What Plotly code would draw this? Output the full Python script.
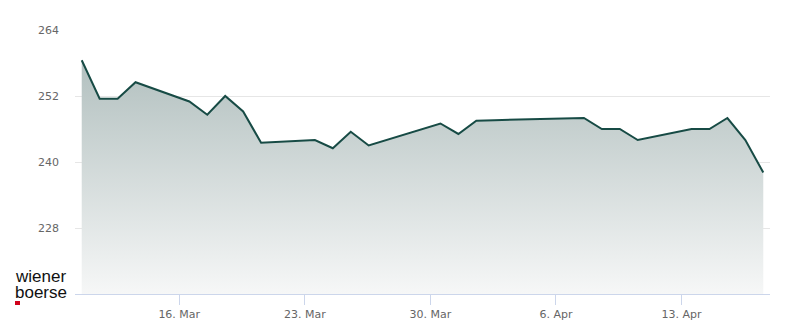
import plotly.graph_objects as go

dates = ["2026-03-10", "2026-03-11", "2026-03-12", "2026-03-13",
         "2026-03-16", "2026-03-17", "2026-03-18", "2026-03-19", "2026-03-20",
         "2026-03-23", "2026-03-24", "2026-03-25", "2026-03-26", "2026-03-27",
         "2026-03-30", "2026-03-31", "2026-04-01", "2026-04-02",
         "2026-04-07", "2026-04-08", "2026-04-09", "2026-04-10",
         "2026-04-13", "2026-04-14", "2026-04-15", "2026-04-16", "2026-04-17"]
values = [258.5, 251.5, 251.5, 254.5,
          251.0, 248.6, 252.0, 249.2, 243.5,
          244.0, 242.5, 245.5, 243.0, 244.0,
          247.0, 245.1, 247.5, 247.6,
          248.0, 246.0, 246.0, 244.0,
          246.0, 246.0, 248.0, 244.0, 238.1]
tick_dates = ["2026-03-16", "2026-03-23", "2026-03-30", "2026-04-06", "2026-04-13"]
tick_labels = ["16. Mar", "23. Mar", "30. Mar", "6. Apr", "13. Apr"]
y_ticks = [228, 240, 252, 264]

x_points = [d + "T13:30:00" for d in dates]

PW, PH = 695, 264

fig = go.Figure()
fig.add_trace(go.Scatter(
    x=x_points, y=values, mode="lines",
    line=dict(color="#174b45", width=2),
    fill="tozeroy",
    fillgradient=dict(type="vertical", start=216, stop=258.5,
                      colorscale=[[0, "rgb(246,247,247)"], [1, "rgb(178,192,191)"]]),
    hoverinfo="skip", showlegend=False,
))

fig.update_layout(
    width=800, height=324,
    margin=dict(l=75, r=30, t=30, b=30, autoexpand=False),
    paper_bgcolor="white", plot_bgcolor="white",
    font=dict(family="DejaVu Sans", size=11, color="#666666"),
    xaxis=dict(
        type="date", automargin=False,
        range=["2026-03-10T04:30:00", "2026-04-17T22:30:00"],
        tickvals=tick_dates, ticktext=tick_labels,
        showgrid=False, zeroline=False,
        showline=True, linecolor="#ccd6eb", linewidth=1,
        ticks="outside", ticklen=10, tickcolor="#ccd6eb", tickwidth=1,
        tickfont=dict(family="DejaVu Sans", size=11, color="#666666"),
    ),
    yaxis=dict(
        range=[216, 264], automargin=False,
        tickvals=y_ticks,
        showgrid=True, gridcolor="#e6e6e6", gridwidth=1,
        zeroline=False, showline=False,
        ticks="", ticklabelstandoff=15,
        tickfont=dict(family="DejaVu Sans", size=11, color="#666666"),
    ),
)

fig.add_annotation(text="wiener", xref="paper", yref="paper", x=(13 - 75) / PW, y=(294 - 265) / PH,
                   xanchor="left", yanchor="top", showarrow=False,
                   font=dict(family="Liberation Sans", size=17, color="#111111"))
fig.add_annotation(text="boerse", xref="paper", yref="paper", x=(13 - 75) / PW, y=(294 - 281) / PH,
                   xanchor="left", yanchor="top", showarrow=False,
                   font=dict(family="Liberation Sans", size=17, color="#111111"))
fig.add_shape(type="rect", xref="paper", yref="paper",
              x0=(15 - 75) / PW, x1=(20 - 75) / PW, y0=-11 / PH, y1=-7 / PH,
              fillcolor="#d0021b", line=dict(width=0))

fig.write_html("out.html")
